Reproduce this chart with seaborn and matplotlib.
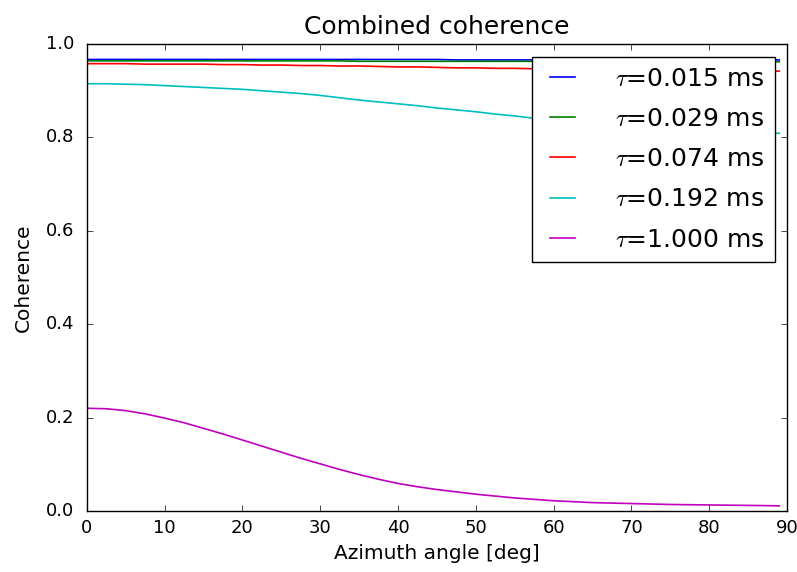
import matplotlib
matplotlib.use("Agg")
import matplotlib.pyplot as plt
import pandas as pd
import seaborn as sns

# Azimuth sample angles [deg]
azimuth = [0, 2.5, 5, 7.5, 10, 12.5, 15, 17.5, 20, 22.5,
           25, 27.5, 30, 32.5, 35, 37.5, 40, 42.5, 45, 47.5,
           50, 52.5, 55, 57.5, 60, 62.5, 65, 67.5, 70, 72.5,
           75, 77.5, 80, 82.5, 85, 87.5, 89]

# Combined coherence for each correlation time tau
coh_0015 = [0.967, 0.967, 0.967, 0.967, 0.967, 0.967, 0.967, 0.967, 0.967, 0.967,
            0.967, 0.967, 0.967, 0.967, 0.967, 0.967, 0.967, 0.967, 0.967, 0.966,
            0.966, 0.966, 0.966, 0.966, 0.966, 0.966, 0.966, 0.966, 0.966, 0.966,
            0.966, 0.966, 0.966, 0.966, 0.966, 0.966, 0.966]
coh_0029 = [0.964, 0.964, 0.964, 0.964, 0.964, 0.964, 0.964, 0.964, 0.964, 0.964,
            0.964, 0.964, 0.964, 0.964, 0.963, 0.963, 0.963, 0.963, 0.963, 0.963,
            0.963, 0.963, 0.963, 0.963, 0.963, 0.963, 0.962, 0.962, 0.962, 0.962,
            0.962, 0.962, 0.962, 0.962, 0.962, 0.962, 0.962]
coh_0074 = [0.958, 0.958, 0.958, 0.957, 0.957, 0.957, 0.957, 0.956, 0.956, 0.955,
            0.955, 0.954, 0.954, 0.953, 0.953, 0.952, 0.951, 0.951, 0.950, 0.949,
            0.949, 0.948, 0.948, 0.947, 0.946, 0.946, 0.945, 0.945, 0.944, 0.944,
            0.943, 0.943, 0.943, 0.942, 0.942, 0.942, 0.942]
coh_0192 = [0.915, 0.915, 0.914, 0.913, 0.911, 0.909, 0.907, 0.905, 0.903, 0.900,
            0.897, 0.894, 0.890, 0.885, 0.880, 0.876, 0.872, 0.868, 0.863, 0.859,
            0.855, 0.850, 0.846, 0.841, 0.837, 0.833, 0.829, 0.825, 0.822, 0.819,
            0.817, 0.815, 0.813, 0.811, 0.810, 0.809, 0.809]
coh_1000 = [0.220, 0.219, 0.215, 0.208, 0.199, 0.189, 0.177, 0.165, 0.152, 0.139,
            0.126, 0.113, 0.101, 0.089, 0.078, 0.068, 0.059, 0.052, 0.046, 0.041,
            0.036, 0.032, 0.028, 0.025, 0.022, 0.020, 0.018, 0.017, 0.016, 0.015,
            0.014, 0.0135, 0.013, 0.0125, 0.012, 0.0115, 0.011]

labels = [r"$\tau$=0.015 ms", r"$\tau$=0.029 ms", r"$\tau$=0.074 ms",
          r"$\tau$=0.192 ms", r"$\tau$=1.000 ms"]
series = [coh_0015, coh_0029, coh_0074, coh_0192, coh_1000]
colors = ["b", "g", "r", "c", "m"]

frames = [pd.DataFrame({"azimuth": azimuth, "coherence": vals, "tau": lab})
          for lab, vals in zip(labels, series)]
df = pd.concat(frames, ignore_index=True)

plt.style.use("classic")
fig = plt.figure(figsize=(7.97, 5.72), dpi=100, facecolor="white")
ax = fig.add_axes([0.109, 0.1066, 0.8785, 0.8164])

sns.lineplot(data=df, x="azimuth", y="coherence", hue="tau", hue_order=labels,
             palette=colors, linewidth=1.2, ax=ax, legend=True)

ax.set_xlim(0, 90)
ax.set_ylim(0, 1.0)
ax.set_xticks(range(0, 91, 10))
ax.set_yticks([0.0, 0.2, 0.4, 0.6, 0.8, 1.0])
ax.tick_params(labelsize=13)
ax.tick_params(axis="y", pad=9)
ax.tick_params(axis="x", pad=6)
ax.set_xlabel("Azimuth angle [deg]", fontsize=14.5)
ax.set_ylabel("Coherence", fontsize=14.5, labelpad=9)
ax.set_title("Combined coherence", fontsize=18, pad=7)

handles, labs = ax.get_legend_handles_labels()
leg = ax.legend(handles, labs, loc="upper right", fontsize=18, fancybox=False,
                borderaxespad=0.5, handlelength=1.6, handletextpad=1.3,
                labelspacing=0.65)
leg.get_frame().set_edgecolor("black")

fig.savefig("out.png", dpi=100, facecolor="white")
